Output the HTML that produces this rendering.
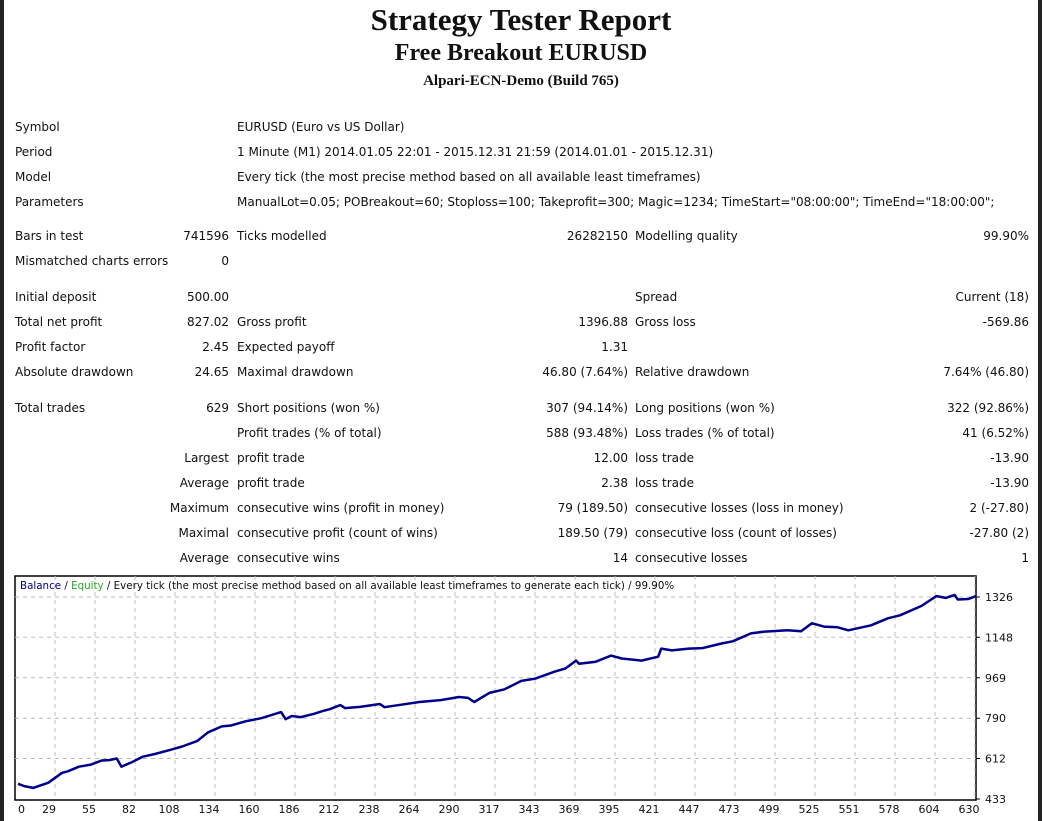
<!DOCTYPE html>
<html><head><meta charset="utf-8"><style>
body{margin:0;width:1042px;height:821px;background:#fff;position:relative;overflow:hidden;font-family:"DejaVu Sans","Liberation Sans",sans-serif;font-size:12px;color:#111;}
.t{position:absolute;white-space:nowrap;line-height:14px;transform:translateY(-7px)}
.r{text-align:right}
h1,h2,h3{position:absolute;left:0;width:1042px;text-align:center;margin:0;font-family:"Liberation Serif",serif;font-weight:bold;}
</style></head><body>
<div style="position:absolute;left:0;top:0;width:4px;height:821px;background:#222"></div>
<div style="position:absolute;right:0;top:0;width:4px;height:821px;background:#222"></div>
<h1 style="top:2px;font-size:31px">Strategy Tester Report</h1>
<h2 style="top:40px;font-size:24px">Free Breakout EURUSD</h2>
<h3 style="top:73px;font-size:15px">Alpari-ECN-Demo (Build 765)</h3>
<div id="tbl"></div>
<svg id="chart" style="position:absolute;left:0;top:0" width="1042" height="821"></svg>
<script>
const rows=[
[127,"Symbol","","EURUSD (Euro vs US Dollar)","","",""],
[152,"Period","","1 Minute (M1) 2014.01.05 22:01 - 2015.12.31 21:59 (2014.01.01 - 2015.12.31)","","",""],
[177,"Model","","Every tick (the most precise method based on all available least timeframes)","","",""],
[202,"Parameters","","ManualLot=0.05; POBreakout=60; Stoploss=100; Takeprofit=300; Magic=1234; TimeStart=\"08:00:00\"; TimeEnd=\"18:00:00\";","","",""],
[236,"Bars in test","741596","Ticks modelled","26282150","Modelling quality","99.90%"],
[261,"Mismatched charts errors","0","","","",""],
[297,"Initial deposit","500.00","","","Spread","Current (18)"],
[322,"Total net profit","827.02","Gross profit","1396.88","Gross loss","-569.86"],
[347,"Profit factor","2.45","Expected payoff","1.31","",""],
[372,"Absolute drawdown","24.65","Maximal drawdown","46.80 (7.64%)","Relative drawdown","7.64% (46.80)"],
[408,"Total trades","629","Short positions (won %)","307 (94.14%)","Long positions (won %)","322 (92.86%)"],
[433,"","","Profit trades (% of total)","588 (93.48%)","Loss trades (% of total)","41 (6.52%)"],
[458,"","Largest","profit trade","12.00","loss trade","-13.90"],
[483,"","Average","profit trade","2.38","loss trade","-13.90"],
[508,"","Maximum","consecutive wins (profit in money)","79 (189.50)","consecutive losses (loss in money)","2 (-27.80)"],
[533,"","Maximal","consecutive profit (count of wins)","189.50 (79)","consecutive loss (count of losses)","-27.80 (2)"],
[558,"","Average","consecutive wins","14","consecutive losses","1"]];
const tbl=document.getElementById('tbl');
rows.forEach(r=>{
 const y=r[0];
 const cols=[[15,r[1],0],[229,r[2],1],[237,r[3],0],[628,r[4],1],[635,r[5],0],[1029,r[6],1]];
 cols.forEach(c=>{ if(!c[1])return;
  const d=document.createElement('div');
  d.className='t'+(c[2]?' r':'');
  d.style.top=y+'px';
  if(c[2]){d.style.right=(1042-c[0])+'px';}else{d.style.left=c[0]+'px';}
  d.textContent=c[1];
  
  
  tbl.appendChild(d);
 });
});
</script>
<script>
const trades=[0,4,10,20,29,33,40,48,55,60,65,68,75,82,90,100,108,118,125,134,140,150,160,173,176,180,186,195,200,205,212,215,225,238,241,252,264,278,290,296,300,310,320,331,340,353,360,367,369,380,390,397,410,421,423,430,441,450,463,470,482,490,506,515,522,530,539,546,561,572,580,594,604,610,616,618,625,630];
const balance=[500,490,482,505,549,556,576,585,603,605,612,576,596,620,632,650,665,690,728,754,758,777,790,817,786,800,795,810,821,830,848,835,840,853,839,850,862,870,884,880,862,902,918,955,965,996,1010,1045,1031,1040,1067,1054,1045,1062,1098,1090,1098,1100,1121,1130,1165,1172,1179,1175,1210,1195,1192,1179,1201,1232,1245,1286,1330,1322,1335,1315,1317,1330];
const yTicks=[433,612,790,969,1148,1326];
const xTicks=[0,29,55,82,108,134,160,186,212,238,264,290,317,343,369,395,421,447,473,499,525,551,578,604,630];
const L=15,T=576,R=976,B=800;
const ymin=433,ymax=1326;
const Y=v=>799-(v-ymin)*(799-597)/(ymax-ymin);
const X=t=>L+3+t*(R-L-3)/630;
const svg=document.getElementById('chart');
const NS='http://www.w3.org/2000/svg';
function mk(tag,attrs){const e=document.createElementNS(NS,tag);for(const k in attrs)e.setAttribute(k,attrs[k]);svg.appendChild(e);return e;}
let e=mk('rect',{x:L,y:T,width:R-L,height:B-T,fill:'#fff',stroke:'#000','stroke-width':1.5});


yTicks.forEach(v=>{
 const y=Y(v);
 if(v>ymin){const g=mk('line',{x1:L,x2:R,y1:y,y2:y,stroke:'#bbb','stroke-dasharray':'4,4'});
 
 }
 const tk=mk('line',{x1:R,x2:R+4,y1:y,y2:y,stroke:'#000'});
 
 
 const tx=mk('text',{x:R+9,y:y+4,'font-size':11,fill:'#111','font-family':'DejaVu Sans, sans-serif'});
 tx.textContent=v;
 
 
});
xTicks.forEach((v,i)=>{
 const x=L+i*40;
 if(i>0){const g=mk('line',{x1:x,x2:x,y1:T,y2:B,stroke:'#bbb','stroke-dasharray':'4,4'});
 
 }
 const tx=mk('text',{x:x-(i==0?-3:6),y:813,'font-size':11,fill:'#111','text-anchor':i==0?'start':'middle','font-family':'DejaVu Sans, sans-serif'});
 tx.textContent=v;
 
 
});
let d='';
trades.forEach((t,i)=>{d+=(i?'L':'M')+X(t).toFixed(1)+','+Y(balance[i]).toFixed(1)+' ';});
const p=mk('path',{d:d,fill:'none',stroke:'#00008b','stroke-width':2.5,'stroke-linejoin':'round'});


const lg=mk('text',{x:L+5,y:T+13,'font-size':10.3,'font-family':'DejaVu Sans, sans-serif',fill:'#111'});
lg.innerHTML='<tspan fill="#00008b">Balance</tspan> / <tspan fill="#22aa22">Equity</tspan> / Every tick (the most precise method based on all available least timeframes to generate each tick) / 99.90%';


</script>
</body></html>
